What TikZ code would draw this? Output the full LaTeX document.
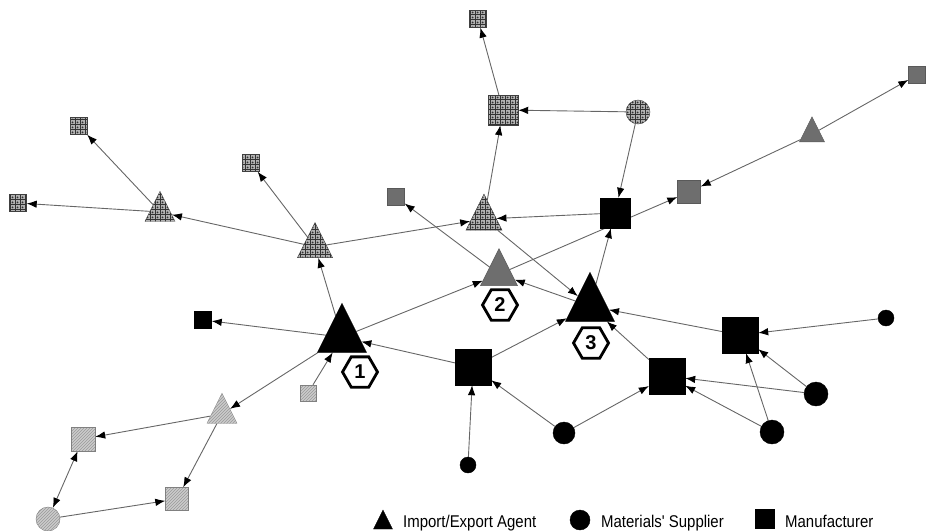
\documentclass[tikz,border=0pt]{standalone}
\usepackage{fontspec}
\setmainfont{Liberation Sans}
\newfontfamily\legendfont[FakeStretch=0.88]{Liberation Sans}
\usetikzlibrary{shapes.geometric,arrows.meta,patterns,backgrounds}

% cell pattern: grid with a small dot in every cell
\pgfdeclarepatternformonly{cellgrid}{\pgfpoint{-0.5pt}{-0.5pt}}{\pgfpoint{5.5pt}{5.5pt}}{\pgfpoint{5pt}{5pt}}{%
  \pgfsetlinewidth{1pt}%
  \pgfpathmoveto{\pgfpointorigin}\pgfpathlineto{\pgfpoint{5pt}{0pt}}%
  \pgfpathmoveto{\pgfpointorigin}\pgfpathlineto{\pgfpoint{0pt}{5pt}}%
  \pgfusepath{stroke}%
  \pgfpathcircle{\pgfpoint{2.5pt}{2.5pt}}{1pt}%
  \pgfusepath{fill}}

\tikzset{
  agent/.style={isosceles triangle, shape border rotate=90, isosceles triangle stretches,
    inner sep=0pt, minimum width=#1, minimum height=#1, yshift=-#1/6},
  maker/.style={rectangle, inner sep=0pt, minimum size=#1},
  supplier/.style={circle, inner sep=0pt, minimum size=#1},
  solid/.style={fill=black, draw=black},
  darkgray/.style={fill=black!57, draw=black!65},
  hatched/.style={draw=black!50, preaction={fill=black!20}, pattern=north east lines, pattern color=black!40},
  celled/.style={draw=black!75, preaction={fill=black!30}, pattern=cellgrid, pattern color=black!80},
  link/.style={draw=black!60, line width=0.9pt, -{Latex[length=10pt,width=7.5pt,color=black]}},
  tag/.style={regular polygon, regular polygon sides=6, draw=black, line width=2.8pt, fill=white,
    inner sep=0pt, minimum size=35pt, font=\bfseries\fontsize{20}{20}\selectfont},
  legend/.style={anchor=base west, inner sep=0pt, font=\legendfont\fontsize{17}{17}\selectfont}
}

\begin{document}
\begin{tikzpicture}[x=1pt, y=-1pt]
  \useasboundingbox (0,0) rectangle (928,530);

  % main agents
  \node (agent1) [agent=49pt, solid] at (342,329) {};
  \node (agent2) [agent=37pt, darkgray] at (499,268) {};
  \node (agent3) [agent=49pt, solid] at (590,298) {};

  % manufacturers
  \node (maker1) [maker=36pt, solid] at (473,367) {};
  \node (maker2) [maker=36pt, solid] at (667,376) {};
  \node (maker3) [maker=36pt, solid] at (740,335) {};
  \node (maker4) [maker=30pt, solid] at (615,213) {};
  \node (maker5) [maker=17pt, solid] at (203,320) {};

  % suppliers
  \node (sup1) [supplier=16pt, solid] at (468,465) {};
  \node (sup2) [supplier=22pt, solid] at (564,433) {};
  \node (sup3) [supplier=24pt, solid] at (772,432) {};
  \node (sup4) [supplier=24pt, solid] at (816,394) {};
  \node (sup5) [supplier=16pt, solid] at (886,318) {};

  % hatched group
  \node (hatchT) [agent=30pt, hatched] at (222,409) {};
  \node (hatchS1) [maker=24pt, hatched] at (83,439) {};
  \node (hatchS2) [maker=23pt, hatched] at (177,499) {};
  \node (hatchS3) [maker=16pt, hatched] at (308,393) {};
  \node (hatchC) [supplier=24pt, hatched] at (48,519) {};

  % dark gray group
  \node (grayT) [agent=25pt, darkgray] at (812,130) {};
  \node (grayS1) [maker=23pt, darkgray] at (689,192) {};
  \node (grayS2) [maker=17pt, darkgray] at (917,75) {};
  \node (grayS3) [maker=17pt, darkgray] at (396,197) {};

  % celled group
  \node (cellT1) [agent=30pt, celled] at (160,207) {};
  \node (cellT2) [agent=35pt, celled] at (315,241) {};
  \node (cellT3) [agent=36pt, celled] at (484,213) {};
  \node (cellS1) [maker=30pt, celled] at (503,110) {};
  \node (cellS2) [maker=17pt, celled] at (79,126) {};
  \node (cellS3) [maker=17pt, celled] at (251,163) {};
  \node (cellS4) [maker=17pt, celled] at (18,203) {};
  \node (cellS5) [maker=17pt, celled] at (478,19) {};
  \node (cellC) [supplier=24pt, celled] at (638,112) {};

  \begin{scope}[on background layer]
    \draw[link] (agent1) -- (maker5);
    \draw[link] (agent1) -- (agent2);
    \draw[link] (maker1) -- (agent1);
    \draw[link] (maker1) -- (agent3);
    \draw[link] (hatchS3) -- (agent1);
    \draw[link] (agent1) -- (hatchT);
    \draw[link] (agent1) -- (cellT2);
    \draw[link] (hatchT) -- (hatchS1);
    \draw[link] (hatchT) -- (hatchS2);
    \draw[link, {Latex[length=10pt,width=7.5pt,color=black]}-{Latex[length=10pt,width=7.5pt,color=black]}] (hatchC) -- (hatchS1);
    \draw[link] (hatchC) -- (hatchS2);
    \draw[link] (cellT2) -- (cellT1);
    \draw[link] (cellT2) -- (cellS3);
    \draw[link] (cellT2) -- (cellT3);
    \draw[link] (cellT1) -- (cellS2);
    \draw[link] (cellT1) -- (cellS4);
    \draw[link] (cellT3) -- (cellS1);
    \draw[link] (cellS1) -- (cellS5);
    \draw[link] (cellC) -- (cellS1);
    \draw[link] (cellC) -- (maker4);
    \draw[link] (maker4) -- (cellT3);
    \draw[link] (grayT) -- (grayS1);
    \draw[link] (grayT) -- (grayS2);
    \draw[link] (agent2) -- (grayS3);
    \draw[link] (agent2) -- (grayS1);
    \draw[link] (agent3) -- (maker4);
    \draw[link] (agent3) -- (agent2);
    \draw[link] (cellT3) -- (agent3);
    \draw[link] (maker3) -- (agent3);
    \draw[link] (maker2) -- (agent3);
    \draw[link] (sup2) -- (maker1);
    \draw[link] (sup2) -- (maker2);
    \draw[link] (sup1) -- (maker1);
    \draw[link] (sup3) -- (maker2);
    \draw[link] (sup3) -- (maker3);
    \draw[link] (sup4) -- (maker2);
    \draw[link] (sup4) -- (maker3);
    \draw[link] (sup5) -- (maker3);
  \end{scope}

  % numbered tags
  \node (tag1) [tag] at (360,372) {1};
  \node (tag2) [tag] at (500,305) {2};
  \node (tag3) [tag] at (591,343) {3};

  % legend
  \node (keyAgent) [agent=19pt, solid] at (383,520) {};
  \node (txtAgent) [legend] at (403,527) {Import/Export Agent};
  \node (keySup) [supplier=20pt, solid] at (580,520) {};
  \node (txtSup) [legend] at (601,527) {Materials' Supplier};
  \node (keyMaker) [maker=19pt, solid] at (765,519) {};
  \node (txtMaker) [legend] at (785,527) {Manufacturer};
\end{tikzpicture}
\end{document}
